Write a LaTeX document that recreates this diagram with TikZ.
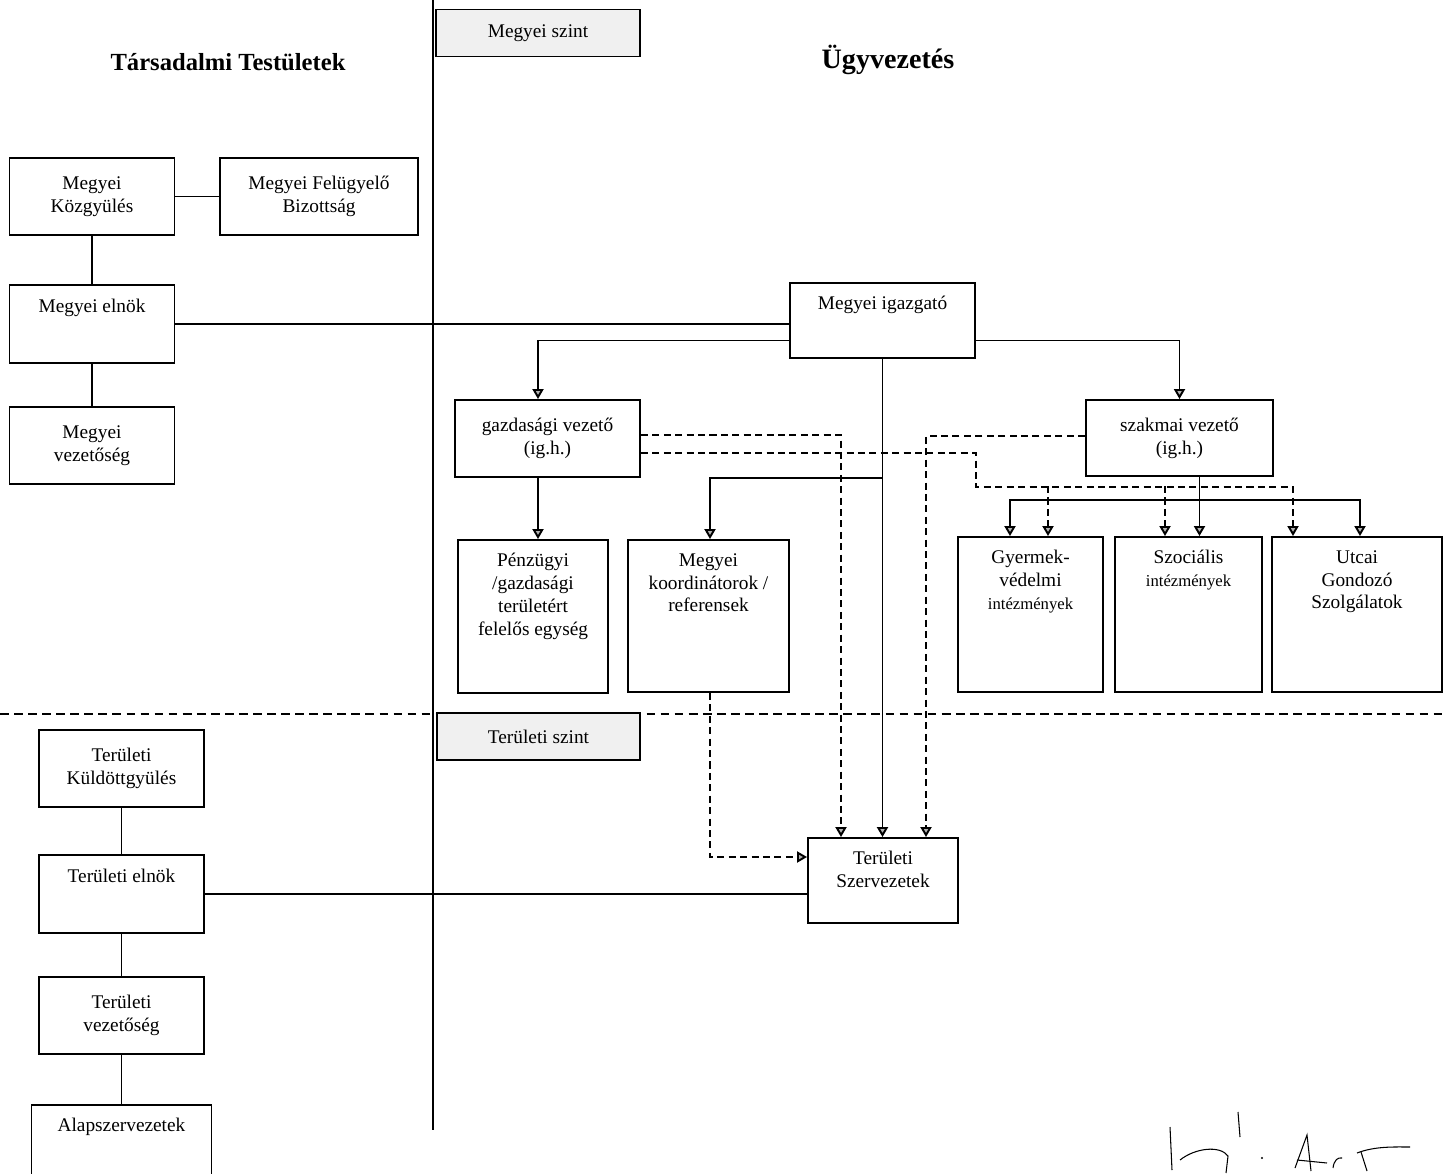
\documentclass[tikz,border=0pt]{standalone}
\usepackage{fontspec}
\setmainfont{Liberation Serif}
\usetikzlibrary{arrows.meta,positioning,calc}

\newcommand{\kicsi}[1]{{\fontsize{9.5}{12}\selectfont #1}}

\begin{document}
\begin{tikzpicture}[
    x=0.02cm, y=-0.02cm,
    font=\fontsize{11}{13}\selectfont,
    box/.style={draw, line width=1.1pt, align=center, inner sep=2pt},
    lbox/.style={box, minimum width=3.3cm, minimum height=1.55cm},
    toptext/.style={anchor=north, align=center, inner sep=8pt},
    level/.style={draw, line width=1.1pt, fill=gray!12, minimum width=4.07cm, minimum height=0.94cm},
    head/.style={font=\fontsize{14}{16}\selectfont\bfseries},
    line/.style={line width=1.1pt},
    arr/.style={line, -{Triangle[length=2mm, width=2.2mm, fill=gray!60]}},
    darr/.style={arr, dash pattern=on 4pt off 2.5pt}
]
\useasboundingbox (0,0) rectangle (1446,1173);
\clip (0,0) rectangle (1446,1173);

% dividers
\draw[line] (433,0) -- (433,1130);
\draw[line, dash pattern=on 5pt off 3pt] (0,714) -- (1446,714);

\node[head] (htars) at (228,62) {Társadalmi Testületek};
\node[head, font=\fontsize{16}{18}\selectfont\bfseries] (hugy) at (888,60) {Ügyvezetés};
\node[level] (lvlM) at (538,33) {Megyei szint};
\node[level] (lvlT) at (538.5,736.5) {Területi szint};

% social bodies, county level
\node[lbox] (kozgy) at (92,196.5) {Megyei\\Közgyülés};
\node[box, minimum width=3.96cm, minimum height=1.54cm] (felugy) at (319,196.5) {Megyei Felügyelő\\Bizottság};
\node[lbox, below=0.96cm of kozgy, label={[toptext]north:Megyei elnök}] (melnok) {};
\node[lbox, below=0.84cm of melnok] (mvez) {Megyei\\vezetőség};

% management
\node[box, minimum width=3.7cm, minimum height=1.5cm, label={[toptext]north:Megyei igazgató}] (igazg) at (882.5,320.5) {};
\node[box, minimum width=3.7cm, minimum height=1.54cm] (gazd) at (547.5,438.5) {gazdasági vezető\\(ig.h.)};
\node[box, minimum width=3.74cm, minimum height=1.52cm] (szakm) at (1179.5,438) {szakmai vezető\\(ig.h.)};
\node[box, minimum width=3.0cm, minimum height=3.06cm, label={[toptext]north:{Pénzügyi\\/gazdasági\\területért\\felelős egység}}] (penz) at (533,616.5) {};
\node[box, minimum width=3.22cm, minimum height=3.04cm, label={[toptext]north:{Megyei\\koordinátorok /\\referensek}}] (koord) at (708.5,616) {};
\node[box, minimum width=2.9cm, minimum height=3.1cm, label={[toptext]north:{Gyermek-\\védelmi\\\kicsi{intézmények}}}] (gyer) at (1030.5,614.5) {};
\node[box, minimum width=2.94cm, minimum height=3.1cm, label={[toptext]north:{Szociális\\\kicsi{intézmények}}}] (szoc) at (1188.5,614.5) {};
\node[box, minimum width=3.4cm, minimum height=3.1cm, label={[toptext]north:{Utcai\\Gondozó\\Szolgálatok}}] (utcai) at (1357,614.5) {};
\node[box, minimum width=3.0cm, minimum height=1.7cm, label={[toptext]north:{Területi\\Szervezetek}}] (tszerv) at (883,880.5) {};

% social bodies, area level
\node[lbox] (tkuld) at (121.5,768.5) {Területi\\Küldöttgyülés};
\node[lbox, below=0.92cm of tkuld, label={[toptext]north:Területi elnök}] (telnok) {};
\node[lbox, below=0.84cm of telnok] (tvez) {Területi\\vezetőség};
\node[box, minimum width=3.6cm, minimum height=1.8cm, below=0.98cm of tvez, label={[toptext]north:Alapszervezetek}] (alap) {};

\draw[line] (kozgy) -- (felugy);
\draw[line] (kozgy) -- (melnok);
\draw[line] (melnok) -- (mvez);
\draw[line] (melnok.east) -- (melnok.east -| igazg.west);
\draw[line] (tkuld) -- (telnok);
\draw[line] (telnok) -- (tvez);
\draw[line] (tvez) -- (alap);
\draw[line] (telnok.east) -- (telnok.east -| tszerv.west);

\draw[arr] ($(igazg.west)+(0,20)$) -| ($(gazd.north)+(-9.5,0)$);
\draw[arr] ($(igazg.east)+(0,20)$) -| (szakm.north);
\draw[arr] (igazg.south) -- (igazg.south |- tszerv.north);
\draw[arr] ($(igazg.south)+(0,119)$) -| ($(koord.north)+(1.5,0)$);
\draw[arr] ($(gazd.south)+(-9.5,0)$) -- ($(penz.north)+(5,0)$);
\draw[line] ($(szakm.south)+(20,0)$) -- ++(0,23) coordinate (bus);
\draw[arr] (bus) -| ($(gyer.north)+(-20.5,0)$);
\draw[arr] (bus) -- ($(szoc.north)+(11,0)$);
\draw[arr] (bus) -| ($(utcai.north)+(3,0)$);

\draw[darr] ($(gazd.east)+(0,-3.5)$) -| ($(tszerv.north)+(-42,0)$);
\draw[darr] ($(gazd.east)+(0,14.5)$) -| ($(gazd.east)+(335,48.5)$) -| ($(utcai.north)+(-64,0)$);
\draw[darr] ($(gyer.north)+(17.5,-50)$) -- ($(gyer.north)+(17.5,0)$);
\draw[darr] ($(szoc.north)+(-23.5,-50)$) -- ($(szoc.north)+(-23.5,0)$);
\draw[darr] ($(szakm.west)+(0,-2)$) -| ($(tszerv.north)+(43,0)$);
\draw[darr] ($(koord.south)+(1.5,0)$) |- ($(tszerv.west)+(0,-23.5)$);

% signature
\draw[line width=0.6pt] (1170,1127) -- (1172,1170);
\draw[line width=0.6pt] (1180,1160) .. controls (1195,1148) and (1220,1145) .. (1228,1156) -- (1226,1173);
\draw[line width=0.6pt] (1238,1112) -- (1240,1137);
\fill (1262,1158) circle (1.2);
\draw[line width=0.6pt] (1295,1168) -- (1307,1135) -- (1311,1171);
\draw[line width=0.6pt] (1297,1160) -- (1327,1163);
\draw[line width=0.6pt] (1333,1168) .. controls (1334,1160) and (1338,1157) .. (1342,1158);
\draw[line width=0.6pt] (1357,1153) .. controls (1375,1146) and (1395,1147) .. (1410,1147);
\draw[line width=0.6pt] (1361,1152) -- (1367,1171);
\end{tikzpicture}
\end{document}
